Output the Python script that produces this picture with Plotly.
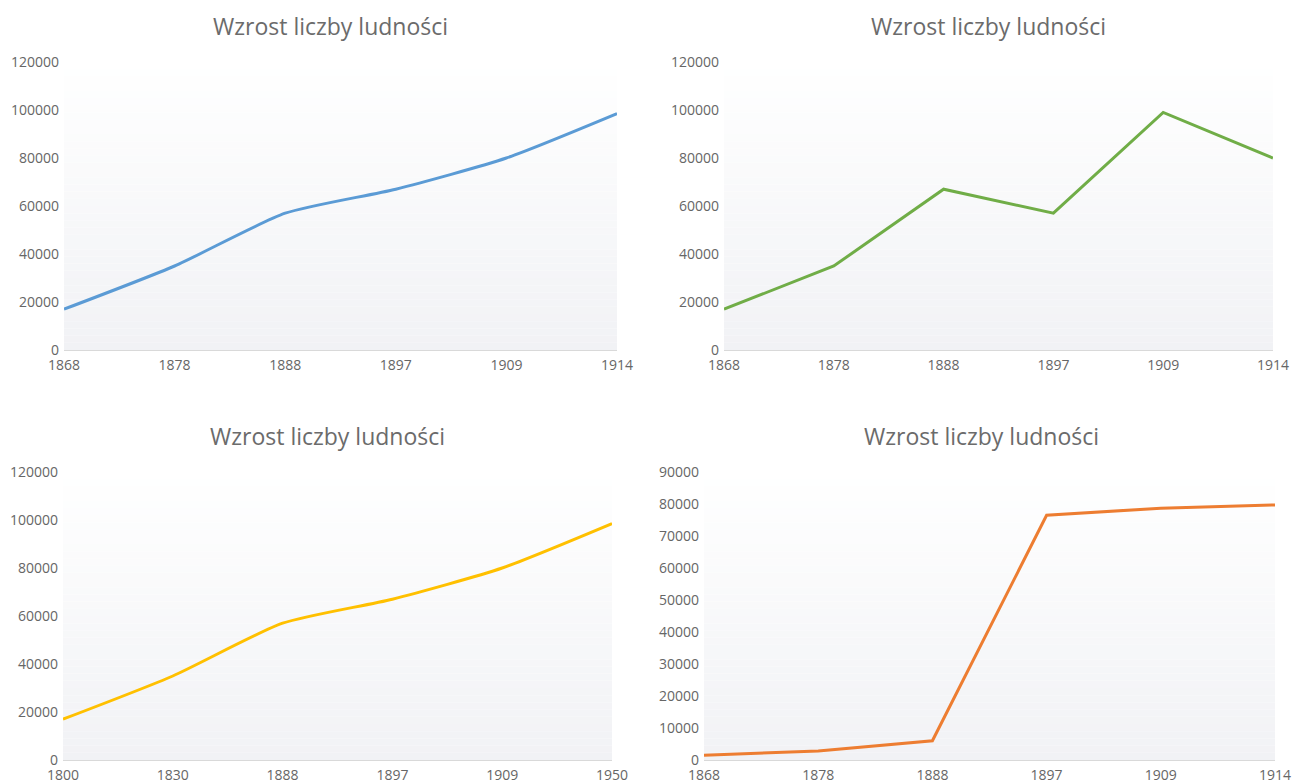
import plotly.graph_objects as go

# ---- data ----
title_text = "Wzrost liczby ludności"

years_a = ["1868", "1878", "1888", "1897", "1909", "1914"]
blue_vals = [17000, 35000, 57000, 67000, 80000, 98500]

green_vals = [17000, 35000, 67000, 57000, 99000, 80000]

years_c = ["1800", "1830", "1888", "1897", "1909", "1950"]
yellow_vals = [17000, 35000, 57000, 67000, 80000, 98500]

orange_vals = [1500, 2800, 6000, 76500, 78700, 79700]

W, H = 1295, 780

# panel pixel boxes: (x0, x1, ytop, ybottom)
panels = [
    dict(x=years_a, y=blue_vals, color="#5B9BD5", shape="spline", ymax=120000, dtick=20000,
         box=(64, 617, 62, 350), title=(330, 26)),
    dict(x=years_a, y=green_vals, color="#70AD47", shape="linear", ymax=120000, dtick=20000,
         box=(724, 1273, 62, 350), title=(988, 26)),
    dict(x=years_c, y=yellow_vals, color="#FFC000", shape="spline", ymax=120000, dtick=20000,
         box=(63, 612, 472, 760), title=(327, 436)),
    dict(x=years_a, y=orange_vals, color="#ED7D31", shape="linear", ymax=90000, dtick=10000,
         box=(704, 1275, 472, 760), title=(981, 436)),
]

fig = go.Figure()
shapes = []
annotations = []
font_family = "Open Sans, DejaVu Sans, sans-serif"
tick_color = "#666666"

for i, p in enumerate(panels, start=1):
    xa = "x" if i == 1 else f"x{i}"
    ya = "y" if i == 1 else f"y{i}"
    x0, x1, yt, yb = p["box"]
    fig.add_trace(go.Scatter(
        x=p["x"], y=p["y"], mode="lines",
        line=dict(color=p["color"], width=3, shape=p["shape"], smoothing=0.6),
        xaxis=xa, yaxis=ya, showlegend=False, hoverinfo="x+y",
    ))
    xkey = "xaxis" if i == 1 else f"xaxis{i}"
    ykey = "yaxis" if i == 1 else f"yaxis{i}"
    fig.layout[xkey] = dict(
        domain=[x0 / W, x1 / W], anchor=ya, type="category", range=[0, 5],
        automargin=False,
        showgrid=False, zeroline=False, showline=True, linecolor="#D9D9D9", linewidth=1,
        ticks="", tickfont=dict(family=font_family, size=14, color=tick_color),
        ticklabelstandoff=2, fixedrange=True,
    )
    fig.layout[ykey] = dict(
        domain=[1 - yb / H, 1 - yt / H], anchor=xa, range=[0, p["ymax"]], dtick=p["dtick"],
        tickformat="d", automargin=False,
        showgrid=False, zeroline=False, showline=False, ticks="",
        tickfont=dict(family=font_family, size=14, color=tick_color),
        ticklabelstandoff=4, fixedrange=True,
    )
    # vertical gradient background (white top -> light gray bottom)
    n = 40
    top = (255, 255, 255)
    bot = (241, 242, 245)
    for k in range(n):
        t = (k + 0.5) / n
        c = tuple(round(top[j] + (bot[j] - top[j]) * t) for j in range(3))
        shapes.append(dict(
            type="rect", xref=f"{xa} domain", yref=f"{ya} domain",
            x0=0, x1=1, y0=1 - (k + 1) / n, y1=1 - k / n,
            fillcolor=f"rgb{c}", line=dict(width=0), layer="below",
        ))
    tx, ty = p["title"]
    annotations.append(dict(
        text=title_text, xref="paper", yref="paper", x=tx / W, y=1 - ty / H,
        xanchor="center", yanchor="middle", showarrow=False,
        font=dict(family=font_family, size=23, color="#6B6B6B"),
    ))

fig.update_layout(
    template="none",
    width=W, height=H,
    margin=dict(l=0, r=0, t=0, b=0, autoexpand=False),
    paper_bgcolor="white", plot_bgcolor="white",
    shapes=shapes, annotations=annotations,
    showlegend=False,
)

fig.write_html(
    "out.html",
    config={"displayModeBar": False},
    post_script="document.body.style.margin='0';document.body.style.overflow='hidden';",
)
